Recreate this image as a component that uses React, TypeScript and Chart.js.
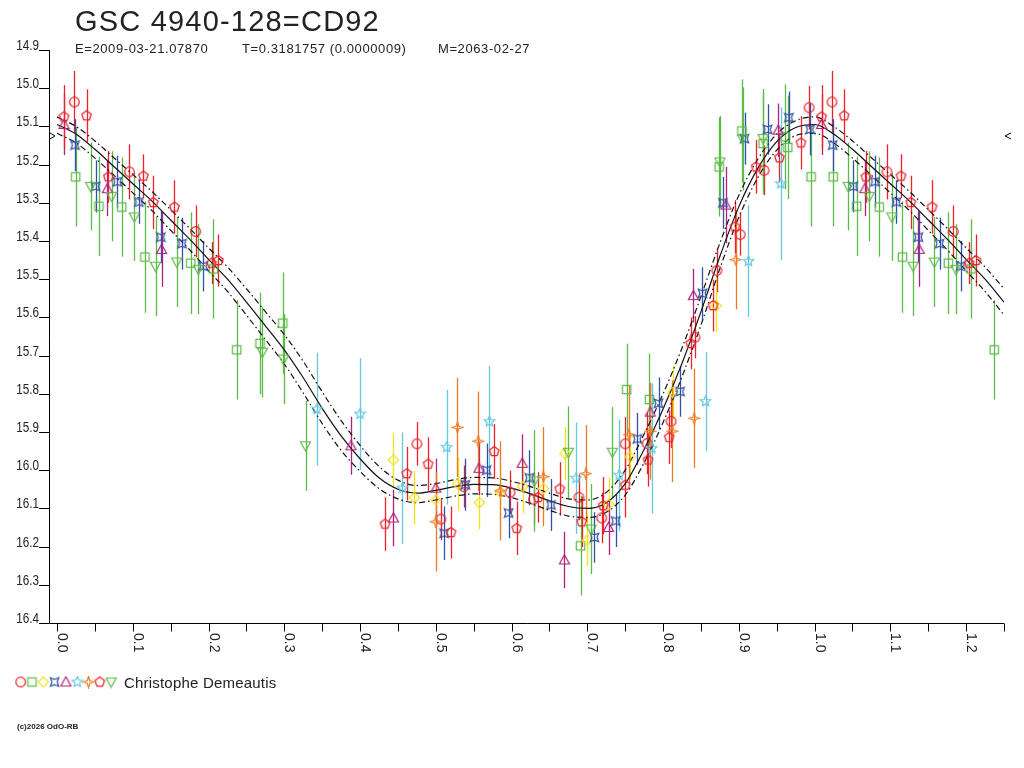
import React, { useEffect, useRef } from "react";
import { Chart, registerables } from "chart.js";

Chart.register(...registerables);

const TITLE = "GSC 4940-128=CD92";
const SUBTITLE_PARTS = ["E=2009-03-21.07870", "T=0.3181757 (0.0000009)", "M=2063-02-27"];
const SUBTITLE_X = [75, 242, 438];
const OBSERVER = "Christophe Demeautis";
const COPYRIGHT = "(c)2026 OdO-RB";

const PHASE_MIN = -0.0106;
const PHASE_MAX = 1.25;
const MAG_MIN = 14.9;
const MAG_MAX = 16.4;
const WRAP_BELOW = 0.25;
const MAX_MARK = 15.125;

const X_TICKS = [0.0, 0.1, 0.2, 0.3, 0.4, 0.5, 0.6, 0.7, 0.8, 0.9, 1.0, 1.1, 1.2];
const X_TICK_LABELS = ["0.0", "0.1", "0.2", "0.3", "0.4", "0.5", "0.6", "0.7", "0.8", "0.9", "1.0", "1.1", "1.2"];
const X_MINOR_TICKS = [0.05, 0.15, 0.25, 0.35, 0.45, 0.55, 0.65, 0.75, 0.85, 0.95, 1.05, 1.15, 1.25];
const Y_TICKS = [14.9, 15.0, 15.1, 15.2, 15.3, 15.4, 15.5, 15.6, 15.7, 15.8, 15.9, 16.0, 16.1, 16.2, 16.3, 16.4];
const Y_TICK_LABELS = ["14.9", "15.0", "15.1", "15.2", "15.3", "15.4", "15.5", "15.6", "15.7", "15.8", "15.9", "16.0", "16.1", "16.2", "16.3", "16.4"];

// Fitted light curve (solid) and its envelope (dash-dot)
const CURVE_PHASE = [
  0.0, 0.025, 0.05, 0.075, 0.1, 0.125, 0.15, 0.175, 0.2, 0.225,
  0.25, 0.275, 0.3, 0.325, 0.35, 0.375, 0.4, 0.425, 0.45, 0.475,
  0.5, 0.525, 0.55, 0.575, 0.6, 0.625, 0.65, 0.675, 0.7, 0.725,
  0.75, 0.775, 0.8, 0.825, 0.85, 0.875, 0.9, 0.925, 0.95, 0.975,
  1.0, 1.025, 1.05, 1.075, 1.1, 1.125, 1.15, 1.175, 1.2, 1.225, 1.25,
];
const CURVE_MAG = [
  15.095, 15.12, 15.16, 15.205, 15.25, 15.295, 15.345, 15.395, 15.448, 15.5,
  15.56, 15.622, 15.685, 15.758, 15.838, 15.91, 15.97, 16.02, 16.05, 16.06,
  16.053, 16.043, 16.037, 16.038, 16.047, 16.062, 16.08, 16.095, 16.1, 16.085,
  16.035, 15.945, 15.84, 15.72, 15.585, 15.44, 15.31, 15.21, 15.14, 15.103,
  15.095, 15.12, 15.16, 15.205, 15.25, 15.295, 15.345, 15.395, 15.448, 15.5, 15.56,
];
const CURVE_UPPER = [
  15.075, 15.1, 15.138, 15.182, 15.226, 15.27, 15.318, 15.367, 15.418, 15.468,
  15.525, 15.585, 15.645, 15.715, 15.795, 15.87, 15.935, 15.99, 16.026, 16.04,
  16.035, 16.025, 16.019, 16.02, 16.029, 16.043, 16.06, 16.075, 16.078, 16.058,
  16.0, 15.905, 15.8, 15.68, 15.545, 15.405, 15.28, 15.186, 15.12, 15.085,
  15.075, 15.1, 15.138, 15.182, 15.226, 15.27, 15.318, 15.367, 15.418, 15.468, 15.525,
];
const CURVE_LOWER = [
  15.118, 15.143, 15.183, 15.228, 15.274, 15.32, 15.372, 15.423, 15.478, 15.532,
  15.594, 15.658, 15.722, 15.798, 15.878, 15.948, 16.003, 16.048, 16.075, 16.085,
  16.078, 16.068, 16.062, 16.063, 16.072, 16.087, 16.105, 16.12, 16.124, 16.11,
  16.065, 15.98, 15.875, 15.755, 15.62, 15.472, 15.338, 15.234, 15.162, 15.124,
  15.118, 15.143, 15.183, 15.228, 15.274, 15.32, 15.372, 15.423, 15.478, 15.532, 15.594,
];

// Observations: phase, magnitude, error (half length of the bar)
const RED_CIRCLE_PHASE = [0.0229, 0.0955, 0.183, 0.475, 0.5066, 0.537, 0.598, 0.629, 0.689, 0.719, 0.75, 0.779, 0.8106, 0.842, 0.871, 0.9017, 0.9333, 0.9927];
const RED_CIRCLE_MAG = [15.036, 15.219, 15.375, 15.931, 16.128, 16.043, 16.058, 16.076, 16.071, 16.125, 15.931, 15.93, 15.872, 15.652, 15.477, 15.383, 15.215, 15.051];
const RED_CIRCLE_ERR = [0.081, 0.072, 0.068, 0.057, 0.055, 0.055, 0.057, 0.068, 0.06, 0.066, 0.07, 0.08, 0.07, 0.055, 0.057, 0.055, 0.065, 0.057];

const GREEN_SQUARE_PHASE = [0.0246, 0.0554, 0.0854, 0.116, 0.1765, 0.2064, 0.2372, 0.268, 0.298, 0.691, 0.752, 0.782, 0.874, 0.904, 0.932, 0.961, 0.9646, 0.9954];
const GREEN_SQUARE_MAG = [15.232, 15.309, 15.311, 15.442, 15.458, 15.473, 15.685, 15.668, 15.615, 16.198, 15.789, 15.815, 15.206, 15.112, 15.145, 15.127, 15.155, 15.232];
const GREEN_SQUARE_ERR = [0.13, 0.13, 0.13, 0.146, 0.133, 0.13, 0.13, 0.133, 0.133, 0.13, 0.12, 0.12, 0.13, 0.135, 0.133, 0.137, 0.135, 0.13];

const YELLOW_DIAMOND_PHASE = [0.444, 0.4717, 0.5, 0.529, 0.5575, 0.585, 0.6147, 0.642, 0.6706, 0.7, 0.728, 0.7564, 0.8127, 0.87];
const YELLOW_DIAMOND_MAG = [15.973, 16.072, 16.078, 16.036, 16.085, 16.057, 16.043, 16.048, 15.956, 16.183, 16.089, 15.965, 15.796, 15.569];
const YELLOW_DIAMOND_ERR = [0.07, 0.07, 0.07, 0.07, 0.07, 0.07, 0.07, 0.07, 0.07, 0.068, 0.07, 0.06, 0.07, 0.07];

const BLUE_HOURGLASS_PHASE = [0.0238, 0.051, 0.0796, 0.108, 0.137, 0.165, 0.193, 0.511, 0.539, 0.567, 0.596, 0.6235, 0.652, 0.7093, 0.7375, 0.766, 0.794, 0.8224, 0.852, 0.879, 0.9075, 0.938, 0.966, 0.994];
const BLUE_HOURGLASS_MAG = [15.149, 15.257, 15.245, 15.298, 15.39, 15.407, 15.466, 16.165, 16.038, 16.0, 16.112, 16.02, 16.091, 16.176, 16.133, 15.918, 15.825, 15.794, 15.537, 15.3, 15.132, 15.108, 15.077, 15.108];
const BLUE_HOURGLASS_ERR = [0.068, 0.068, 0.068, 0.057, 0.068, 0.068, 0.066, 0.07, 0.068, 0.07, 0.066, 0.072, 0.068, 0.066, 0.068, 0.068, 0.068, 0.066, 0.068, 0.068, 0.068, 0.066, 0.068, 0.068];

const MAGENTA_TRIANGLE_PHASE = [0.0092, 0.0664, 0.138, 0.388, 0.444, 0.5, 0.557, 0.614, 0.6697, 0.728, 0.783, 0.84, 0.883, 0.952];
const MAGENTA_TRIANGLE_MAG = [15.095, 15.263, 15.422, 15.936, 16.125, 16.047, 15.995, 15.982, 16.235, 16.15, 15.848, 15.543, 15.306, 15.11];
const MAGENTA_TRIANGLE_ERR = [0.08, 0.072, 0.098, 0.076, 0.074, 0.077, 0.07, 0.076, 0.074, 0.072, 0.075, 0.07, 0.1, 0.07];

const CYAN_STAR_PHASE = [0.343, 0.4, 0.456, 0.5144, 0.5707, 0.685, 0.742, 0.785, 0.856, 0.9127, 0.9554];
const CYAN_STAR_MAG = [15.84, 15.853, 16.047, 15.94, 15.873, 16.021, 16.013, 15.943, 15.82, 15.453, 15.25];
const CYAN_STAR_ERR = [0.148, 0.146, 0.146, 0.15, 0.146, 0.146, 0.146, 0.17, 0.13, 0.146, 0.2];

const ORANGE_STAR4_PHASE = [0.5, 0.5285, 0.556, 0.585, 0.642, 0.698, 0.755, 0.783, 0.812, 0.841, 0.896];
const ORANGE_STAR4_MAG = [16.135, 15.888, 15.924, 16.054, 16.017, 16.009, 15.907, 15.898, 15.898, 15.864, 15.449];
const ORANGE_STAR4_ERR = [0.13, 0.13, 0.13, 0.13, 0.13, 0.127, 0.128, 0.127, 0.133, 0.13, 0.13];

const RED_PENTAGON_PHASE = [0.0092, 0.039, 0.0677, 0.114, 0.127, 0.155, 0.204, 0.213, 0.433, 0.4617, 0.4898, 0.52, 0.577, 0.6068, 0.635, 0.6636, 0.6926, 0.721, 0.75, 0.78, 0.808, 0.8365, 0.866, 0.895, 0.9228, 0.9535, 0.982];
const RED_PENTAGON_MAG = [15.075, 15.072, 15.232, 15.23, 15.299, 15.311, 15.458, 15.451, 16.141, 16.009, 15.984, 16.163, 15.951, 16.152, 16.071, 16.049, 16.135, 16.093, 16.039, 15.973, 15.914, 15.668, 15.569, 15.363, 15.206, 15.182, 15.143];
const RED_PENTAGON_ERR = [0.083, 0.069, 0.068, 0.057, 0.07, 0.07, 0.055, 0.068, 0.07, 0.07, 0.07, 0.068, 0.072, 0.07, 0.066, 0.07, 0.066, 0.075, 0.085, 0.07, 0.07, 0.068, 0.068, 0.07, 0.07, 0.065, 0.07];

const GREEN_INVTRI_PHASE = [0.0444, 0.0722, 0.102, 0.13, 0.158, 0.1866, 0.271, 0.299, 0.328, 0.63, 0.675, 0.705, 0.733, 0.875, 0.905, 0.932];
const GREEN_INVTRI_MAG = [15.257, 15.283, 15.337, 15.466, 15.455, 15.474, 15.691, 15.709, 15.936, 16.028, 15.953, 16.154, 15.953, 15.193, 15.133, 15.132];
const GREEN_INVTRI_ERR = [0.115, 0.118, 0.115, 0.13, 0.118, 0.118, 0.118, 0.118, 0.118, 0.133, 0.12, 0.118, 0.118, 0.12, 0.135, 0.13];

const RED = "#ee2028";
const GREEN = "#5cbb46";
const YELLOW = "#f2e21a";
const BLUE = "#3050a8";
const MAGENTA = "#b0207c";
const CYAN = "#62c8de";
const ORANGE = "#f07a22";

type Series = { kind: string; color: string; phase: number[]; mag: number[]; err: number[] };

const SERIES: Series[] = [
  { kind: "circle", color: RED, phase: RED_CIRCLE_PHASE, mag: RED_CIRCLE_MAG, err: RED_CIRCLE_ERR },
  { kind: "square", color: GREEN, phase: GREEN_SQUARE_PHASE, mag: GREEN_SQUARE_MAG, err: GREEN_SQUARE_ERR },
  { kind: "diamond", color: YELLOW, phase: YELLOW_DIAMOND_PHASE, mag: YELLOW_DIAMOND_MAG, err: YELLOW_DIAMOND_ERR },
  { kind: "hourglass", color: BLUE, phase: BLUE_HOURGLASS_PHASE, mag: BLUE_HOURGLASS_MAG, err: BLUE_HOURGLASS_ERR },
  { kind: "triangle", color: MAGENTA, phase: MAGENTA_TRIANGLE_PHASE, mag: MAGENTA_TRIANGLE_MAG, err: MAGENTA_TRIANGLE_ERR },
  { kind: "star", color: CYAN, phase: CYAN_STAR_PHASE, mag: CYAN_STAR_MAG, err: CYAN_STAR_ERR },
  { kind: "star4", color: ORANGE, phase: ORANGE_STAR4_PHASE, mag: ORANGE_STAR4_MAG, err: ORANGE_STAR4_ERR },
  { kind: "pentagon", color: RED, phase: RED_PENTAGON_PHASE, mag: RED_PENTAGON_MAG, err: RED_PENTAGON_ERR },
  { kind: "invtri", color: GREEN, phase: GREEN_INVTRI_PHASE, mag: GREEN_INVTRI_MAG, err: GREEN_INVTRI_ERR },
];

function polygon(ctx: CanvasRenderingContext2D, pts: number[][]) {
  ctx.beginPath();
  pts.forEach((p, i) => (i === 0 ? ctx.moveTo(p[0], p[1]) : ctx.lineTo(p[0], p[1])));
  ctx.closePath();
}

function starPts(n: number, outer: number, inner: number, rot: number) {
  const pts: number[][] = [];
  for (let i = 0; i < n * 2; i++) {
    const r = i % 2 === 0 ? outer : inner;
    const a = rot + (i * Math.PI) / n;
    pts.push([r * Math.cos(a), r * Math.sin(a)]);
  }
  return pts;
}

function makeMarker(kind: string, color: string): HTMLCanvasElement {
  const c = document.createElement("canvas");
  c.width = 13;
  c.height = 13;
  const ctx = c.getContext("2d")!;
  ctx.translate(6.5, 6.5);
  ctx.strokeStyle = color;
  ctx.lineWidth = 1.2;
  switch (kind) {
    case "circle":
      ctx.beginPath();
      ctx.arc(0, 0, 4.8, 0, Math.PI * 2);
      break;
    case "square":
      ctx.beginPath();
      ctx.rect(-4.2, -4.2, 8.4, 8.4);
      break;
    case "diamond":
      polygon(ctx, [[0, -5.2], [5.2, 0], [0, 5.2], [-5.2, 0]]);
      break;
    case "hourglass":
      polygon(ctx, [[-4.2, -4.2], [0, -2.6], [4.2, -4.2], [2.6, 0], [4.2, 4.2], [0, 2.6], [-4.2, 4.2], [-2.6, 0]]);
      break;
    case "triangle":
      polygon(ctx, [[0, -5.2], [5, 4], [-5, 4]]);
      break;
    case "invtri":
      polygon(ctx, [[-5, -4], [5, -4], [0, 5.2]]);
      break;
    case "star":
      polygon(ctx, starPts(5, 5.4, 2.5, -Math.PI / 2));
      break;
    case "star4":
      polygon(ctx, starPts(4, 5.6, 1.8, -Math.PI / 2));
      break;
    case "pentagon":
      polygon(ctx, starPts(5, 5, 5, -Math.PI / 2).filter((_, i) => i % 2 === 0));
      break;
  }
  ctx.stroke();
  return c;
}

function wrapPoints(s: Series) {
  const pts: { x: number; y: number; e: number }[] = [];
  s.phase.forEach((p, i) => {
    pts.push({ x: p, y: s.mag[i], e: s.err[i] });
  });
  s.phase.forEach((p, i) => {
    if (p < WRAP_BELOW) pts.push({ x: p + 1, y: s.mag[i], e: s.err[i] });
  });
  return pts;
}

export default function App() {
  const ref = useRef<HTMLCanvasElement>(null);

  useEffect(() => {
    if (!ref.current) return;
    const markers = SERIES.map((s) => makeMarker(s.kind, s.color));

    const curve = (mags: number[]) => CURVE_PHASE.map((p, i) => ({ x: p, y: mags[i] }));
    const lineDs = (mags: number[], dash: number[]) => ({
      data: curve(mags),
      showLine: true,
      borderColor: "#111",
      borderWidth: 1.2,
      borderDash: dash,
      pointRadius: 0,
      tension: 0.4,
      cubicInterpolationMode: "monotone" as const,
      order: 20,
    });

    const pointSets = SERIES.map((s, i) => ({
      data: wrapPoints(s),
      pointStyle: markers[i],
      pointRadius: 5,
      showLine: false,
      borderColor: s.color,
      backgroundColor: s.color,
      order: 10 - i,
      errColor: s.color,
    }));

    const errorBars = {
      id: "errorBars",
      beforeDatasetsDraw(chart: any) {
        const { ctx, chartArea, scales } = chart;
        ctx.save();
        ctx.beginPath();
        ctx.rect(chartArea.left, chartArea.top, chartArea.right - chartArea.left, chartArea.bottom - chartArea.top);
        ctx.clip();
        ctx.lineWidth = 1.3;
        chart.data.datasets.forEach((ds: any) => {
          if (!ds.errColor) return;
          ctx.strokeStyle = ds.errColor;
          ds.data.forEach((d: any) => {
            const x = Math.round(scales.x.getPixelForValue(d.x)) + 0.5;
            const y1 = scales.y.getPixelForValue(d.y - d.e);
            const y2 = scales.y.getPixelForValue(d.y + d.e);
            ctx.beginPath();
            ctx.moveTo(x, y1);
            ctx.lineTo(x, y2);
            ctx.stroke();
          });
        });
        ctx.restore();
      },
    };

    const decorations = {
      id: "decorations",
      afterDraw(chart: any) {
        const { ctx, chartArea, scales } = chart;
        const L = chartArea.left;
        const B = chartArea.bottom;
        const R = chartArea.right;
        const T = chartArea.top;
        ctx.save();
        ctx.strokeStyle = "#000";
        ctx.lineWidth = 1;
        // axes lines
        ctx.beginPath();
        ctx.moveTo(Math.round(L) + 0.5, T);
        ctx.lineTo(Math.round(L) + 0.5, Math.round(B) + 0.5);
        ctx.lineTo(R, Math.round(B) + 0.5);
        ctx.stroke();
        // x ticks
        const drawXTick = (v: number) => {
          const x = Math.round(scales.x.getPixelForValue(v)) + 0.5;
          ctx.beginPath();
          ctx.moveTo(x, Math.round(B) + 0.5);
          ctx.lineTo(x, Math.round(B) + 8.5);
          ctx.stroke();
        };
        X_TICKS.forEach(drawXTick);
        X_MINOR_TICKS.forEach(drawXTick);
        ctx.fillStyle = "#222";
        ctx.font = "14px 'Liberation Sans', Arial, sans-serif";
        ctx.textAlign = "left";
        ctx.textBaseline = "alphabetic";
        X_TICKS.forEach((v, i) => {
          const x = Math.round(scales.x.getPixelForValue(v));
          ctx.save();
          ctx.translate(x + 1, B + 10);
          ctx.rotate(Math.PI / 2);
          ctx.fillText(X_TICK_LABELS[i], 0, 0);
          ctx.restore();
        });
        // y ticks ("label_" style)
        Y_TICKS.forEach((v, i) => {
          const y = Math.round(scales.y.getPixelForValue(v)) + 0.5;
          ctx.beginPath();
          ctx.moveTo(L - 10, y);
          ctx.lineTo(L, y);
          ctx.stroke();
          ctx.save();
          ctx.translate(L - 10, y - 1);
          ctx.scale(0.78, 1);
          ctx.font = "15px 'Liberation Sans', Arial, sans-serif";
          ctx.textAlign = "right";
          ctx.fillText(Y_TICK_LABELS[i], 0, 0);
          ctx.restore();
        });
        // maximum markers > and <
        const ym = scales.y.getPixelForValue(MAX_MARK);
        ctx.beginPath();
        ctx.moveTo(L + 1, ym - 3);
        ctx.lineTo(L + 6, ym);
        ctx.lineTo(L + 1, ym + 3);
        ctx.moveTo(R + 7, ym - 3);
        ctx.lineTo(R + 1, ym);
        ctx.lineTo(R + 7, ym + 3);
        ctx.stroke();
        // title & subtitle
        ctx.textAlign = "left";
        ctx.fillStyle = "#222";
        ctx.font = "29px 'Liberation Sans', Arial, sans-serif";
        (ctx as any).letterSpacing = "1.2px";
        ctx.fillText(TITLE, 75, 31);
        ctx.font = "13px 'Liberation Sans', Arial, sans-serif";
        (ctx as any).letterSpacing = "0.6px";
        SUBTITLE_PARTS.forEach((t, i) => ctx.fillText(t, SUBTITLE_X[i], 53));
        // legend
        (ctx as any).letterSpacing = "0.2px";
        markers.forEach((m, i) => {
          ctx.drawImage(m, 20.7 + i * 11.3 - 6.5, 682 - 6.5);
        });
        ctx.fillStyle = "#222";
        ctx.font = "15px 'Liberation Sans', Arial, sans-serif";
        ctx.fillText(OBSERVER, 124, 688);
        (ctx as any).letterSpacing = "0px";
        ctx.font = "bold 8px 'Liberation Sans', Arial, sans-serif";
        ctx.fillText(COPYRIGHT, 17, 729);
        ctx.restore();
      },
    };

    const chart = new Chart(ref.current, {
      type: "scatter",
      data: {
        datasets: [
          ...pointSets,
          lineDs(CURVE_MAG, []),
          lineDs(CURVE_UPPER, [6, 3, 1.5, 3]),
          lineDs(CURVE_LOWER, [6, 3, 1.5, 3]),
        ] as any,
      },
      options: {
        animation: false,
        responsive: false,
        devicePixelRatio: 1,
        layout: { padding: { left: 49, top: 50, right: 20, bottom: 145 } },
        plugins: { legend: { display: false }, tooltip: { enabled: false }, title: { display: false } },
        events: [],
        scales: {
          x: { type: "linear", min: PHASE_MIN, max: PHASE_MAX, display: false },
          y: { type: "linear", min: MAG_MIN, max: MAG_MAX, reverse: true, display: false },
        },
      },
      plugins: [errorBars, decorations],
    });
    return () => chart.destroy();
  }, []);

  return (
    <div style={{ position: "fixed", left: 0, top: 0, width: 1024, height: 768, background: "#fff" }}>
      <canvas ref={ref} width={1024} height={768} style={{ width: 1024, height: 768 }} />
    </div>
  );
}
